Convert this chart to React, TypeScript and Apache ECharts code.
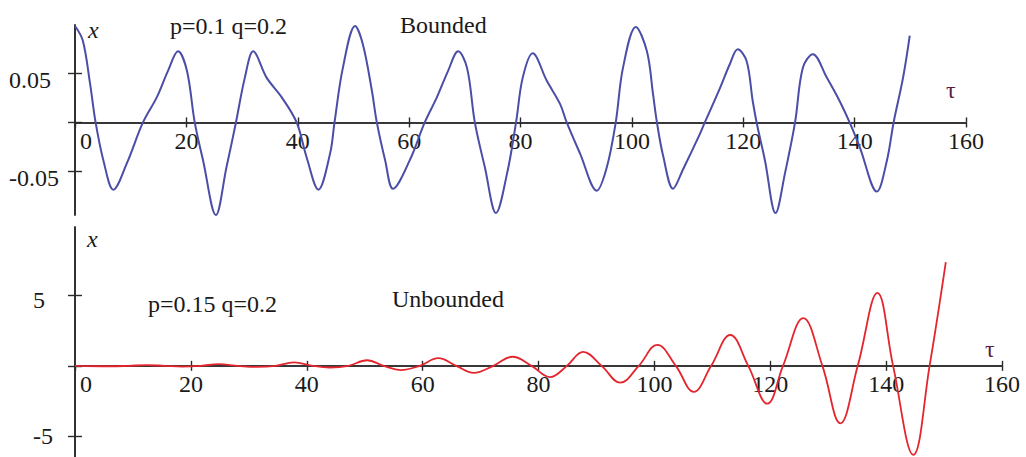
import React, { useEffect, useRef } from "react";
import * as echarts from "echarts";

// ---- data ----
const tauTicks = [0, 20, 40, 60, 80, 100, 120, 140, 160];
const topYTicks = [-0.05, 0, 0.05];
const topYLabels = [-0.05, 0.05];
const bottomYTicks = [-5, 0, 5];
const bottomYLabels = [-5, 5];

// bounded case p=0.1 q=0.2 : [tau, x]
const boundedCurve: [number, number][] = [
  [0, 0.099], [1.4, 0.084], [2.7, 0.04], [3.7, 0], [5.1, -0.039], [6.9, -0.069],
  [9.3, -0.042], [12.2, 0], [14.7, 0.026], [16.7, 0.053], [18.5, 0.073],
  [20.1, 0.053], [21.5, 0], [23, -0.039], [25.3, -0.095], [27.2, -0.046],
  [28.9, 0], [30.5, 0.046], [32, 0.073], [34.4, 0.046], [37.1, 0.026],
  [39.8, 0], [41.6, -0.036], [43.7, -0.069], [45.8, -0.032], [46.6, 0],
  [48.1, 0.056], [50.3, 0.099], [51.7, 0.08], [53.3, 0.033], [54.2, 0],
  [55.7, -0.039], [57.1, -0.068], [60.1, -0.039], [62.8, 0], [65, 0.026],
  [67, 0.053], [68.8, 0.073], [70.4, 0.056], [71.8, 0], [73.6, -0.046],
  [75.6, -0.093], [77.6, -0.052], [79.2, 0], [80.4, 0.046], [82.2, 0.071],
  [84.7, 0.043], [87.1, 0.019], [88.3, 0], [90.7, -0.032], [93.7, -0.07],
  [95.5, -0.046], [97.1, 0], [98.4, 0.056], [100.7, 0.098], [102.7, 0.073],
  [103.8, 0.029], [104.5, 0], [105.6, -0.034], [107.4, -0.068], [109.2, -0.048],
  [112.2, -0.012], [113.1, 0], [115.8, 0.035], [117.6, 0.06], [119, 0.075],
  [120.6, 0.063], [121.7, 0.022], [122.4, 0], [123.9, -0.039], [125.8, -0.093],
  [127.5, -0.052], [129.3, 0], [130.7, 0.056], [132.5, 0.07], [135, 0.046],
  [137.3, 0.022], [139.1, 0], [140.9, -0.025], [144, -0.071], [145.8, -0.039],
  [147, 0], [148.7, 0.046], [149.9, 0.089],
];

// unbounded case p=0.15 q=0.2 : [tau, x]
const unboundedCurve: [number, number][] = [
  [0, 0], [6, -0.03], [9.2, 0], [12.4, 0.05], [15.5, 0], [18.5, -0.05],
  [21.7, 0], [24.8, 0.12], [28.1, 0], [31.4, -0.08], [34.6, 0], [37.8, 0.25],
  [41, 0], [44, -0.12], [47.2, 0], [50.4, 0.4], [53.3, 0], [56.2, -0.3],
  [59.5, 0], [62.7, 0.55], [65.8, 0], [68.8, -0.5], [72.2, 0], [75.5, 0.65],
  [78.8, 0], [82, -0.8], [84.9, 0], [87.7, 1.0], [90.9, 0], [94.1, -1.2],
  [97.3, 0], [100.5, 1.5], [103.7, 0], [106.8, -1.85], [109.8, 0], [113.1, 2.2],
  [116.2, 0], [119.5, -2.7], [122.2, 0], [125.7, 3.4], [129, 0], [132.1, -4.1],
  [135.1, 0], [138.5, 5.2], [141.2, 0], [144.7, -6.35], [147.5, 0], [150.3, 7.4],
];

const FONT = "Liberation Serif";
const AXIS_COLOR = "#2a2a2a";
const TEXT_COLOR = "#1a1a1a";

// layout
const TOP_GRID = { left: 75, top: 25, width: 891, height: 190 };
const BOT_GRID = { left: 75, top: 227, width: 927, height: 230 };
const TOP_Y = { min: -0.095, max: 0.1 };
const BOT_Y = { min: -6.5, max: 9.9 };

// distance from the grid bottom up to the zero line
function zeroOffset(height: number, min: number, max: number) {
  return (height * (0 - min)) / (max - min);
}

function xAxes(gridIndex: number, zeroUp: number, margin: number) {
  const common = {
    gridIndex,
    type: "value" as const,
    min: 0,
    max: 160,
    interval: 20,
    splitLine: { show: false },
  };
  return [
    {
      ...common,
      position: "bottom",
      axisLine: { show: true, onZero: true, lineStyle: { color: AXIS_COLOR, width: 1.6 } },
      axisTick: { show: true, length: 5, lineStyle: { color: AXIS_COLOR, width: 1.4 }, customValues: tauTicks },
      axisLabel: { show: false },
    },
    {
      ...common,
      position: "top",
      axisLine: { show: true, onZero: true, lineStyle: { color: AXIS_COLOR, width: 1.6 } },
      axisTick: { show: true, length: 5, lineStyle: { color: AXIS_COLOR, width: 1.4 }, customValues: tauTicks.slice(1) },
      axisLabel: { show: false },
    },
    {
      ...common,
      position: "bottom",
      offset: -zeroUp,
      axisLine: { show: false, onZero: false },
      axisTick: { show: false },
      axisLabel: {
        show: true,
        margin,
        color: TEXT_COLOR,
        fontFamily: FONT,
        fontSize: 24,
        customValues: tauTicks,
        formatter: (v: number) => (v === 0 ? "{z|0}" : String(v)),
        rich: { z: { padding: [0, 0, 0, 22], fontFamily: FONT, fontSize: 24, color: TEXT_COLOR } },
      },
    },
  ];
}

function yAxes(
  gridIndex: number,
  min: number,
  max: number,
  ticks: number[],
  labels: number[],
  margin: number,
  lineHeight: number,
  shifted: (v: number) => boolean
) {
  const common = {
    gridIndex,
    type: "value" as const,
    min,
    max,
    splitLine: { show: false },
    axisLine: { show: true, onZero: true, lineStyle: { color: AXIS_COLOR, width: 1.6 } },
  };
  return [
    {
      ...common,
      position: "left",
      axisTick: { show: true, length: 7, lineStyle: { color: AXIS_COLOR, width: 1.4 }, customValues: ticks },
      axisLabel: {
        show: true,
        margin,
        align: "left",
        verticalAlign: "middle",
        color: TEXT_COLOR,
        fontFamily: FONT,
        fontSize: 24,
        lineHeight,
        customValues: labels,
        // an empty first line drops the label a little below its tick, as in the reference
        formatter: (v: number) => (shifted(v) ? "\n" + String(v) : String(v)),
      },
    },
    {
      ...common,
      position: "right",
      axisTick: { show: true, length: 7, lineStyle: { color: AXIS_COLOR, width: 1.4 }, customValues: ticks },
      axisLabel: { show: false },
    },
  ];
}

function txt(text: string, x: number, y: number, extra: any = {}) {
  return {
    type: "text",
    x,
    y,
    silent: true,
    style: {
      text,
      fill: TEXT_COLOR,
      font: `24px "${FONT}"`,
      textAlign: "left",
      textVerticalAlign: "middle",
      ...extra,
    },
  };
}

export default function App() {
  const ref = useRef<HTMLDivElement>(null);

  useEffect(() => {
    if (!ref.current) return;
    const chart = echarts.init(ref.current, undefined, { renderer: "svg" });
    const topZero = zeroOffset(TOP_GRID.height, TOP_Y.min, TOP_Y.max);
    const botZero = zeroOffset(BOT_GRID.height, BOT_Y.min, BOT_Y.max);
    chart.setOption({
      animation: false,
      backgroundColor: "#ffffff",
      grid: [
        { ...TOP_GRID, outerBoundsMode: "none", containLabel: false },
        { ...BOT_GRID, outerBoundsMode: "none", containLabel: false },
      ],
      xAxis: [...xAxes(0, topZero, 7), ...xAxes(1, botZero, 6)],
      yAxis: [
        ...yAxes(0, TOP_Y.min, TOP_Y.max, topYTicks, topYLabels, 66, 13, () => true),
        ...yAxes(1, BOT_Y.min, BOT_Y.max, bottomYTicks, bottomYLabels, 42, 8, (v) => v > 0),
      ],
      series: [
        {
          type: "line",
          xAxisIndex: 0,
          yAxisIndex: 0,
          data: boundedCurve,
          smooth: 0.35,
          showSymbol: false,
          clip: false,
          lineStyle: { color: "#4a4ea6", width: 2 },
        },
        {
          type: "line",
          xAxisIndex: 3,
          yAxisIndex: 2,
          data: unboundedCurve,
          smooth: 0.4,
          showSymbol: false,
          clip: false,
          lineStyle: { color: "#e3262e", width: 1.8 },
        },
      ],
      graphic: [
        txt("x", 88, 30, { font: `italic 24px "${FONT}"` }),
        txt("p=0.1 q=0.2", 170, 26),
        txt("Bounded", 400, 25),
        txt("τ", 946, 90, { fill: "#5a1e46" }),
        txt("x", 87, 239, { font: `italic 24px "${FONT}"` }),
        txt("p=0.15 q=0.2", 148, 304),
        txt("Unbounded", 392, 299),
        txt("τ", 985, 349, { fill: "#5a1e46" }),
      ],
    });
    return () => chart.dispose();
  }, []);

  return (
    <div
      ref={ref}
      style={{ position: "absolute", left: 0, top: 0, width: 1026, height: 457, background: "#fff" }}
    />
  );
}
